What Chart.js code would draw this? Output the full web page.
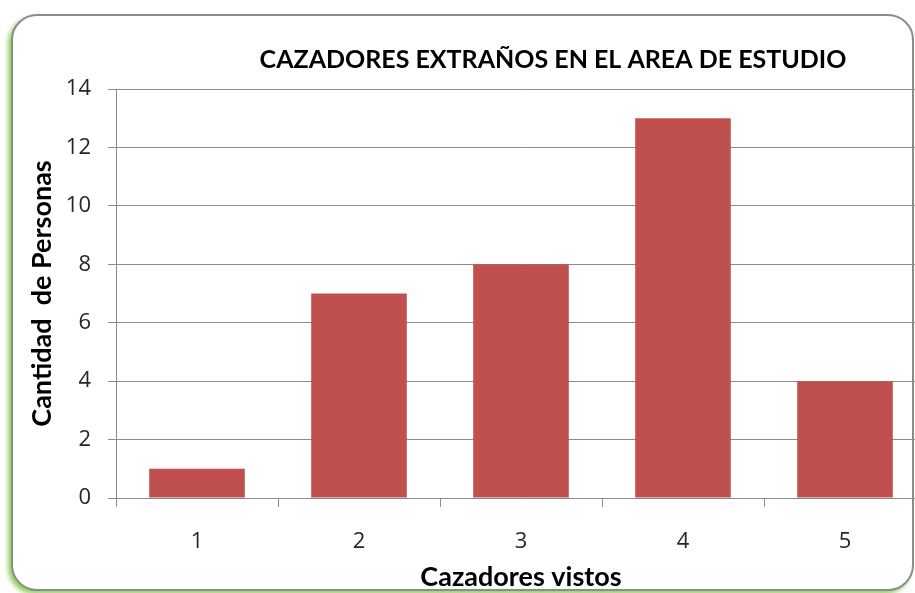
<!DOCTYPE html>
<html>
<head>
<meta charset="utf-8">
<script src="https://cdn.jsdelivr.net/npm/chart.js@4/dist/chart.umd.min.js"></script>
<style>
  html, body { margin: 0; padding: 0; background: #fff; overflow: hidden; width: 915px; height: 593px; }
  #frame {
    position: absolute; left: 11px; top: 14px; width: 903px; height: 577px;
    box-sizing: border-box; border: 2px solid #8c8c8c; border-radius: 26px;
    box-shadow: -3px 3px 4px rgba(130, 200, 70, 0.85);
    background: #fff;
  }
  #chart { position: absolute; left: 0; top: 0; }
</style>
</head>
<body>
<div id="frame"></div>
<canvas id="chart" width="960" height="593"></canvas>
<script>
// data
const categories = ["1", "2", "3", "4", "5"];
const personas = [1, 7, 8, 13, 4];
const yTicks = [0, 2, 4, 6, 8, 10, 12, 14];

const titleText = "CAZADORES EXTRAÑOS EN EL AREA DE ESTUDIO";
const xTitle = "Cazadores vistos";
const yTitle = "Cantidad  de Personas";

const gridColor = "#8c8c8c";
const textColor = "#262626";

// the chart title sits off-centre in the original, so draw it ourselves
const titlePlugin = {
    id: "offTitle",
    afterDraw(chart) {
        let c = chart.ctx;
        c.save();
        c.font = "bold 25px Lato";
        c.fillStyle = "#000";
        c.textAlign = "center";
        c.textBaseline = "middle";
        c.fillText(titleText, 553, 60);
        c.restore();
    }
};

function main() {
    let ctx = document.getElementById("chart");
    new Chart(ctx, {
        type: "bar",
        data: {
            labels: categories,
            datasets: [
                {
                    data: personas,
                    backgroundColor: "#c0504d",
                    barPercentage: 0.59,
                    categoryPercentage: 1
                }
            ]
        },
        plugins: [titlePlugin],
        options: {
            responsive: false,
            devicePixelRatio: 1,
            animation: false,
            layout: { padding: { left: 0, right: 34, top: 89, bottom: 0 } },
            plugins: {
                legend: { display: false },
                tooltip: { enabled: false }
            },
            scales: {
                x: {
                    afterFit: scale => { scale.height = 95; },
                    grid: {
                        offset: true,
                        drawOnChartArea: false,
                        color: gridColor,
                        tickLength: 9
                    },
                    border: { color: gridColor },
                    ticks: {
                        color: textColor,
                        padding: 22,
                        font: { family: "Open Sans", size: 22 }
                    },
                    title: {
                        display: true,
                        text: xTitle,
                        color: "#000",
                        font: { family: "Lato", size: 27, weight: "bold" },
                        padding: { top: 0, bottom: 0 }
                    }
                },
                y: {
                    min: 0,
                    max: 14,
                    afterFit: scale => { scale.width = 116; },
                    afterBuildTicks: scale => {
                        scale.ticks = yTicks.map(v => ({ value: v }));
                    },
                    grid: { color: gridColor, tickLength: 8 },
                    border: { color: gridColor },
                    ticks: {
                        color: textColor,
                        padding: 17,
                        font: { family: "Open Sans", size: 22 }
                    },
                    title: {
                        display: true,
                        text: yTitle,
                        color: "#000",
                        font: { family: "Lato", size: 27, weight: "bold" },
                        padding: { top: 26, bottom: 0 }
                    }
                }
            }
        }
    });
}

document.addEventListener("DOMContentLoaded", main);
</script>
</body>
</html>
